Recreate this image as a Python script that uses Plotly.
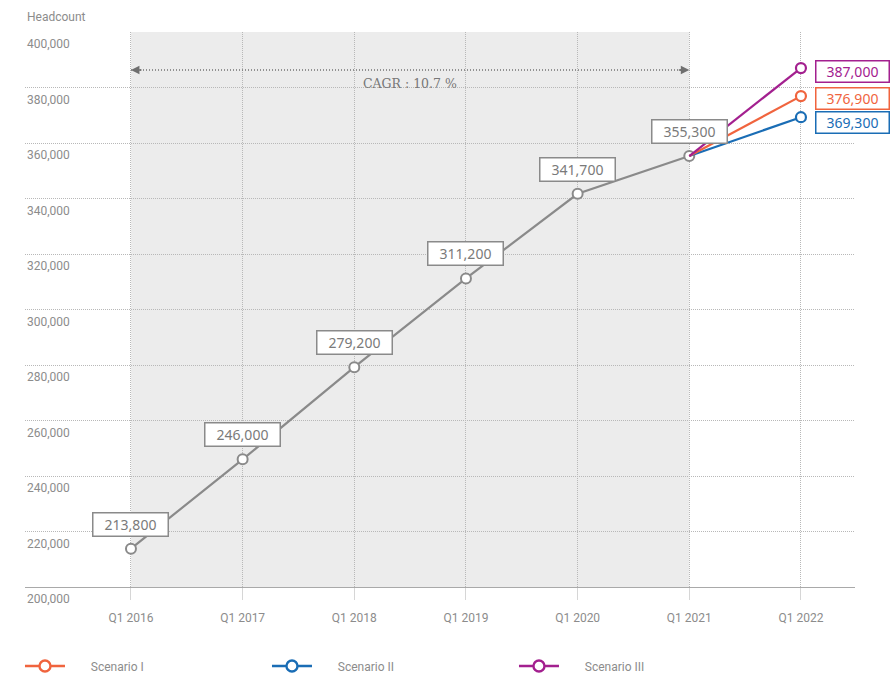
import plotly.graph_objects as go

# Headcount history (Q1 of each year) and the three Q1 2022 scenarios
quarters = ["Q1 2016", "Q1 2017", "Q1 2018", "Q1 2019", "Q1 2020", "Q1 2021", "Q1 2022"]
history = [213800, 246000, 279200, 311200, 341700, 355300]
scenario_names = ["Scenario I", "Scenario II", "Scenario III"]
scenario_values = [376900, 369300, 387000]
scenario_colors = ["#f0643e", "#1a6db5", "#a3208f"]
y_ticks = [200000, 220000, 240000, 260000, 280000, 300000, 320000, 340000, 360000, 380000, 400000]
cagr_text = "CAGR : 10.7 %"

GRAY = "#8a8a8a"
TEXT_GRAY = "#7a7a7a"
TICK_GRAY = "#8c8c8c"
GRID = "#b8b8b8"
CAGR_LEVEL = 386300
# vertical nudges (px) for the scenario value boxes so they don't collide
scenario_box_shift = [-2, -5, -3]
NBSP = "\u00a0" * 7  # gap between legend symbol and its text

fig = go.Figure()

# Shaded historical window
fig.add_shape(type="rect", xref="x", yref="y domain", x0=0, x1=5, y0=0, y1=1,
              fillcolor="#ececec", line_width=0, layer="below")

# Historical series
fig.add_trace(go.Scatter(
    x=quarters[:len(history)], y=history, mode="lines+markers",
    line=dict(color=GRAY, width=2.2),
    marker=dict(symbol="circle", size=10, color="white", line=dict(color=GRAY, width=2)),
    showlegend=False, hoverinfo="skip"))

# Scenario branches from the last actual value (end marker only)
order = [1, 0, 2]
for i in order:
    fig.add_trace(go.Scatter(
        x=[quarters[-2], quarters[-1]], y=[history[-1], scenario_values[i]],
        mode="lines+markers", showlegend=False, legendgroup=scenario_names[i],
        line=dict(color=scenario_colors[i], width=2.2),
        marker=dict(symbol="circle", size=[0, 10], color="white", opacity=1,
                    line=dict(color=scenario_colors[i], width=2.2)),
        hoverinfo="skip"))

# Legend entries for the scenarios
for i, (name, c) in enumerate(zip(scenario_names, scenario_colors)):
    fig.add_trace(go.Scatter(
        x=[None], y=[None], mode="lines+markers", name=NBSP + name,
        legendgroup=name, legendrank=i + 1,
        line=dict(color=c, width=2.4),
        marker=dict(symbol="circle", size=11, color="white", line=dict(color=c, width=2.4))))

# Value boxes above the historical points
for q, v in zip(quarters, history):
    fig.add_annotation(x=q, y=v, xref="x", yref="y", text=f"{v:,}",
                       showarrow=False, yanchor="bottom", yshift=12,
                       width=70, height=18, bgcolor="white",
                       bordercolor=GRAY, borderwidth=1.5, borderpad=2,
                       font=dict(family="Noto Sans", size=14, color=TEXT_GRAY))

# Scenario value boxes to the right of the end points
for v, c, s in zip(scenario_values, scenario_colors, scenario_box_shift):
    fig.add_annotation(x=quarters[-1], y=v, xref="x", yref="y", text=f"{v:,}",
                       showarrow=False, xanchor="left", xshift=14, yshift=s,
                       width=68, height=16, bgcolor="white",
                       bordercolor=c, borderwidth=1.5, borderpad=2,
                       font=dict(family="Noto Sans", size=14, color=c))

# CAGR span: dotted line with arrowheads at both ends
fig.add_shape(type="line", xref="x", yref="y", x0=0, x1=5, y0=CAGR_LEVEL, y1=CAGR_LEVEL,
              line=dict(color="#6f6f6f", width=1.3, dash="1px,2px"))
for xi, ax in [(0, 12), (5, -12)]:
    fig.add_annotation(x=xi, y=CAGR_LEVEL, xref="x", yref="y", text="",
                       showarrow=True, arrowhead=2, arrowsize=1.3, arrowwidth=1.3,
                       arrowcolor="#6f6f6f", ax=ax, ay=0)
fig.add_annotation(x=2.5, y=CAGR_LEVEL, xref="x", yref="y", text=cagr_text,
                   showarrow=False, yanchor="top", yshift=-4,
                   font=dict(family="DejaVu Serif", size=12.5, color="#777777"))

# Y tick labels sit just below their gridlines at the left edge
for t in y_ticks:
    fig.add_annotation(x=0, y=t, xref="paper", yref="y", text=f"{t:,}",
                       showarrow=False, xanchor="left", yanchor="top", yshift=-3,
                       font=dict(family="Roboto", size=12, color=TICK_GRAY))

# Axis title
fig.add_annotation(x=0, y=1.027, xref="paper", yref="paper", text="Headcount",
                   showarrow=False, xanchor="left", yanchor="middle",
                   font=dict(family="Roboto", size=12, color=TICK_GRAY))

fig.update_xaxes(
    type="category", categoryorder="array", categoryarray=quarters,
    range=[-0.949, 6.484], showgrid=True, gridcolor=GRID, griddash="1px,1px", gridwidth=1,
    showline=True, linecolor="#a9a9a9", linewidth=1.3,
    ticks="outside", ticklen=12, tickcolor="#d6d6d6", tickwidth=1,
    ticklabelstandoff=7,
    tickfont=dict(family="Roboto", size=12, color=TICK_GRAY), zeroline=False)
fig.update_yaxes(
    range=[200000, 400000], tickvals=y_ticks, showticklabels=False,
    showgrid=True, gridcolor=GRID, griddash="1px,1px", gridwidth=1,
    zeroline=False, showline=False)

fig.update_layout(
    width=896, height=674, autosize=False,
    margin=dict(l=25, r=41, t=32, b=87),
    paper_bgcolor="white", plot_bgcolor="white",
    font=dict(family="Roboto", color=TICK_GRAY),
    legend=dict(orientation="h", xref="container", yref="container",
                x=0.0223, xanchor="left", y=1 - 666 / 674, yanchor="middle",
                entrywidth=192, entrywidthmode="pixels", itemwidth=40,
                traceorder="normal",
                font=dict(family="Roboto", size=12, color=TICK_GRAY),
                bgcolor="rgba(0,0,0,0)"),
    showlegend=True,
)

fig.write_html("out.html")
